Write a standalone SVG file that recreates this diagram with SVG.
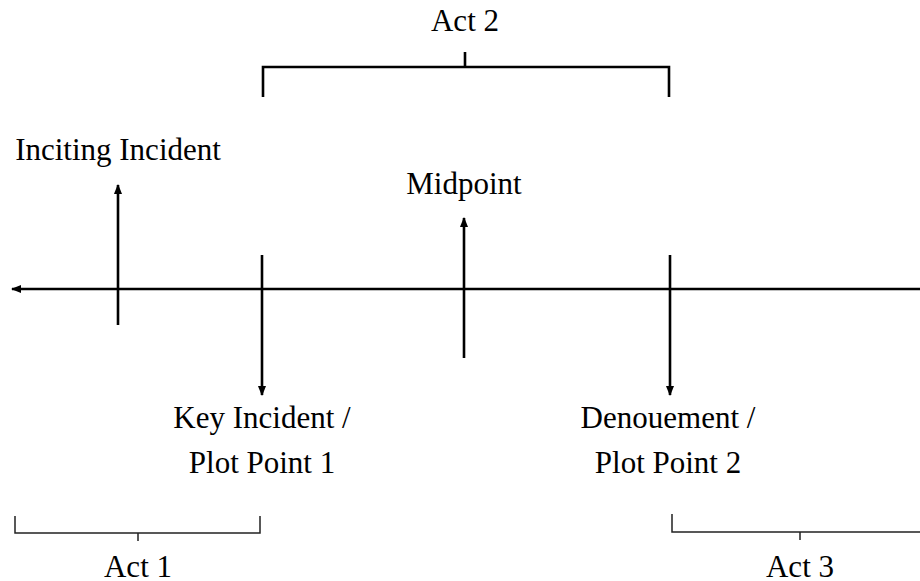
<svg xmlns="http://www.w3.org/2000/svg" width="920" height="581" viewBox="0 0 920 581">
<style>
text{font-family:"Liberation Serif","Times New Roman",serif;font-size:31px;fill:#000;text-anchor:middle}
.thick{stroke:#000;stroke-width:2.6;fill:none}
.thin{stroke:#222;stroke-width:1.5;fill:none}
</style>
<defs>
<marker id="ah" viewBox="0 0 10 10" refX="9" refY="5" markerWidth="4" markerHeight="4" orient="auto" markerUnits="strokeWidth">
<path d="M0,1 L10,5 L0,9 Z" fill="#000"/>
</marker>
</defs>
<rect width="920" height="581" fill="#fff"/>
<g id="connectors">
<line class="thick" x1="920" y1="289" x2="12" y2="289" marker-end="url(#ah)"/>
<line class="thick" x1="118" y1="325" x2="118" y2="185" marker-end="url(#ah)"/>
<line class="thick" x1="262" y1="255" x2="262" y2="395" marker-end="url(#ah)"/>
<line class="thick" x1="464" y1="358" x2="464" y2="218" marker-end="url(#ah)"/>
<line class="thick" x1="670" y1="255" x2="670" y2="395" marker-end="url(#ah)"/>
</g>
<g id="act2">
<path class="thick" d="M263,97 V67 H669 V97 M465,67 V52"/>
<text x="465" y="31">Act 2</text>
</g>
<g id="inciting-incident">
<text x="118" y="160">Inciting Incident</text>
</g>
<g id="midpoint">
<text x="464" y="194">Midpoint</text>
</g>
<g id="plot-point-1">
<text x="262" y="428">Key Incident /</text>
<text x="262" y="473">Plot Point 1</text>
</g>
<g id="plot-point-2">
<text x="668" y="428">Denouement /</text>
<text x="668" y="473">Plot Point 2</text>
</g>
<g id="act1">
<path class="thin" d="M15,516 V533 H260 V516 M138,533 V541"/>
<text x="138" y="577">Act 1</text>
</g>
<g id="act3">
<path class="thin" d="M672,514 V532 H920 M800,532 V540"/>
<text x="800" y="577">Act 3</text>
</g>
</svg>
